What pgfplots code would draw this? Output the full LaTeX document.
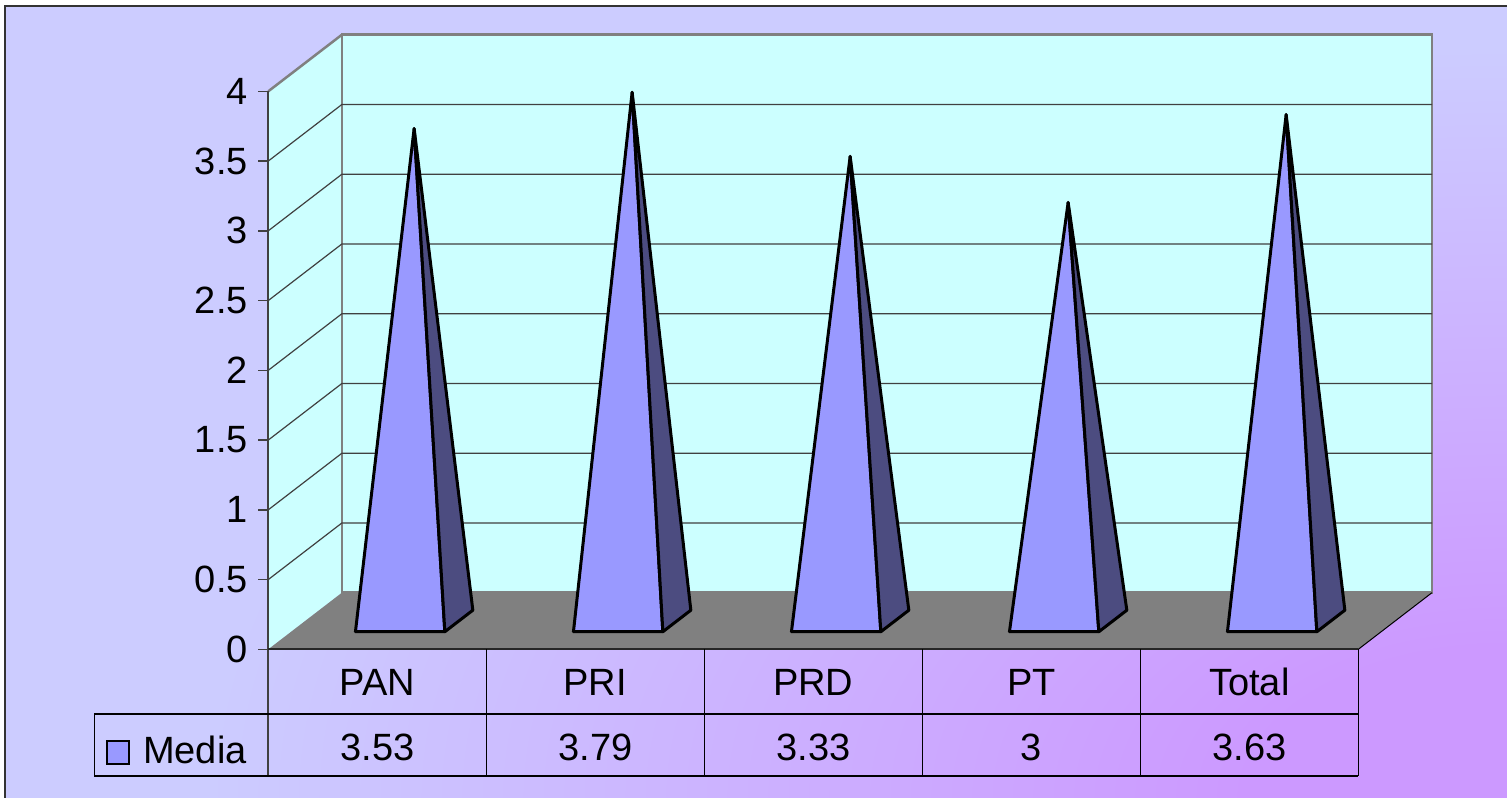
\documentclass[border=0pt]{standalone}
\usepackage{pgfplots}
\pgfplotsset{compat=1.18}
\usepackage{pgfplotstable}
\usepackage{fontspec}
\setmainfont{Liberation Sans}
\definecolor{lav}{HTML}{CCCCFF}
\definecolor{purp}{HTML}{CC99FF}
\definecolor{wall}{HTML}{CCFFFF}
\definecolor{floorc}{HTML}{808080}
\definecolor{pfront}{HTML}{9999FF}
\definecolor{pside}{HTML}{4C4C80}
\pgfdeclareradialshading{bgshade}{\pgfpointorigin}{color(0bp)=(purp); color(5bp)=(purp); color(25bp)=(lav); color(50bp)=(lav)}

% category centre and value (Media)
\pgfplotstableread{
cx v
0.5 3.53
1.5 3.79
2.5 3.33
3.5 3
4.5 3.63
}\data

% pyramid faces: fx = side of base, d = depth, a = 1 at apex
\pgfplotstableread{
fx d a
-1 0.31 0
1 0.31 0
0 0.5 1
-1 0.31 0
}\frontface
\pgfplotstableread{
fx d a
1 0.31 0
1 0.69 0
0 0.5 1
1 0.31 0
}\sideface

\begin{document}
\begin{tikzpicture}[lbl/.style={inner sep=0pt, font=\fontsize{38}{44}\selectfont, text=black}]
\begin{axis}[
  at={(0,0)}, anchor=south west,
  width=1507pt, height=798pt, scale only axis,
  xmin=-1.2307, xmax=5.6821, ymin=-1.0659, ymax=4.6545,
  hide axis, clip=false,
]
% background and frame
\fill[white] (axis cs:-1.2307,-1.0659) rectangle (axis cs:5.6821,4.6545);
\fill[lav] (axis cs:-1.2055,-1.0659) rectangle (axis cs:5.6821,4.608);
\begin{scope}
\clip (axis cs:-1.2055,-1.0659) rectangle (axis cs:5.6821,4.608);
\shade[shading=bgshade] (axis cs:5.6821,-1.0659) ellipse [x radius=1300pt, y radius=750pt];
\end{scope}
\draw[line width=2pt, black!80] (axis cs:-1.2055,-1.0659) -- (axis cs:-1.2055,4.608) -- (axis cs:5.6821,4.608);

% walls and floor
\addplot[fill=wall, draw=none] coordinates {(0,0) (0,4) (0.338,4.406) (0.338,0.406) (0,0)};
\addplot[fill=wall, draw=floorc, line width=2.5pt] coordinates {(0.338,0.406) (0.338,4.406) (5.338,4.406) (5.338,0.406) (0.338,0.406)};
\addplot[fill=floorc, draw=none] coordinates {(0,0) (5,0) (5.338,0.406) (0.338,0.406) (0,0)};
\addplot[floorc, line width=2.5pt] coordinates {(0,4) (0.338,4.406)};
\addplot[black, line width=1pt] coordinates {(5,0) (5.338,0.406)};

% gridlines
\addplot[black!75, line width=1.2pt] coordinates {(0,0.5) (0.338,0.906) (5.338,0.906)};
\addplot[black!75, line width=1.2pt] coordinates {(0,1) (0.338,1.406) (5.338,1.406)};
\addplot[black!75, line width=1.2pt] coordinates {(0,1.5) (0.338,1.906) (5.338,1.906)};
\addplot[black!75, line width=1.2pt] coordinates {(0,2) (0.338,2.406) (5.338,2.406)};
\addplot[black!75, line width=1.2pt] coordinates {(0,2.5) (0.338,2.906) (5.338,2.906)};
\addplot[black!75, line width=1.2pt] coordinates {(0,3) (0.338,3.406) (5.338,3.406)};
\addplot[black!75, line width=1.2pt] coordinates {(0,3.5) (0.338,3.906) (5.338,3.906)};

% pyramids
\pgfplotsinvokeforeach{0,...,4}{
  \pgfplotstablegetelem{#1}{cx}\of\data \let\cx\pgfplotsretval
  \pgfplotstablegetelem{#1}{v}\of\data \let\vv\pgfplotsretval
  \edef\temp{\noexpand\addplot[fill=pfront, draw=black, line width=3pt, line join=round, line cap=round] table[x expr=\cx+0.205*\noexpand\thisrow{fx}+0.338*\noexpand\thisrow{d}, y expr=\vv*\noexpand\thisrow{a}+0.406*\noexpand\thisrow{d}] {\noexpand\frontface};
  \noexpand\addplot[fill=pside, draw=black, line width=3pt, line join=round, line cap=round] table[x expr=\cx+0.205*\noexpand\thisrow{fx}+0.338*\noexpand\thisrow{d}, y expr=\vv*\noexpand\thisrow{a}+0.406*\noexpand\thisrow{d}] {\noexpand\sideface};}
  \temp
}

% y axis, ticks
\addplot[black!75, line width=2pt] coordinates {(0,-0.908) (0,4)};
\addplot[black!75, line width=1.5pt] coordinates {(-0.0472,0) (0,0)};
\addplot[black!75, line width=1.5pt] coordinates {(-0.0472,0.5) (0,0.5)};
\addplot[black!75, line width=1.5pt] coordinates {(-0.0472,1) (0,1)};
\addplot[black!75, line width=1.5pt] coordinates {(-0.0472,1.5) (0,1.5)};
\addplot[black!75, line width=1.5pt] coordinates {(-0.0472,2) (0,2)};
\addplot[black!75, line width=1.5pt] coordinates {(-0.0472,2.5) (0,2.5)};
\addplot[black!75, line width=1.5pt] coordinates {(-0.0472,3) (0,3)};
\addplot[black!75, line width=1.5pt] coordinates {(-0.0472,3.5) (0,3.5)};
\addplot[black!75, line width=1.5pt] coordinates {(-0.0472,4) (0,4)};
\node[lbl, anchor=east] at (axis cs:-0.0931,0) {0};
\node[lbl, anchor=east] at (axis cs:-0.0931,0.5) {0.5};
\node[lbl, anchor=east] at (axis cs:-0.0931,1) {1};
\node[lbl, anchor=east] at (axis cs:-0.0931,1.5) {1.5};
\node[lbl, anchor=east] at (axis cs:-0.0931,2) {2};
\node[lbl, anchor=east] at (axis cs:-0.0931,2.5) {2.5};
\node[lbl, anchor=east] at (axis cs:-0.0931,3) {3};
\node[lbl, anchor=east] at (axis cs:-0.0931,3.5) {3.5};
\node[lbl, anchor=east] at (axis cs:-0.0931,4) {4};

% data table
\draw[black!85, line width=2pt] (axis cs:0,0) -- (axis cs:5,0);
\draw[black, line width=1.2pt] (axis cs:-0.798,-0.4645) -- (axis cs:5,-0.4645);
\draw[black, line width=1.2pt] (axis cs:-0.798,-0.908) -- (axis cs:5,-0.908);
\draw[black, line width=1.2pt] (axis cs:-0.798,-0.4645) -- (axis cs:-0.798,-0.908);
\draw[black, line width=1.2pt] (axis cs:1,0) -- (axis cs:1,-0.908);
\draw[black, line width=1.2pt] (axis cs:2,0) -- (axis cs:2,-0.908);
\draw[black, line width=1.2pt] (axis cs:3,0) -- (axis cs:3,-0.908);
\draw[black, line width=1.2pt] (axis cs:4,0) -- (axis cs:4,-0.908);
\draw[black, line width=1.2pt] (axis cs:5,0) -- (axis cs:5,-0.908);
\node[lbl, anchor=base] at (axis cs:0.5,-0.3276) {PAN};
\node[lbl, anchor=base] at (axis cs:1.5,-0.3276) {PRI};
\node[lbl, anchor=base] at (axis cs:2.5,-0.3276) {PRD};
\node[lbl, anchor=base] at (axis cs:3.5,-0.3276) {PT};
\node[lbl, anchor=base] at (axis cs:4.5,-0.3276) {Total};
\node[lbl, anchor=base] at (axis cs:0.5,-0.800) {3.53};
\node[lbl, anchor=base] at (axis cs:1.5,-0.800) {3.79};
\node[lbl, anchor=base] at (axis cs:2.5,-0.800) {3.33};
\node[lbl, anchor=base] at (axis cs:3.5,-0.800) {3};
\node[lbl, anchor=base] at (axis cs:4.5,-0.800) {3.63};
\draw[fill=pfront, line width=1.5pt] (axis cs:-0.740,-0.822) rectangle (axis cs:-0.639,-0.657);
\node[lbl, anchor=base west] at (axis cs:-0.575,-0.822) {Media};
\end{axis}
\pgfresetboundingbox
\useasboundingbox (current axis.south west) rectangle (current axis.north east);
\end{tikzpicture}
\end{document}
